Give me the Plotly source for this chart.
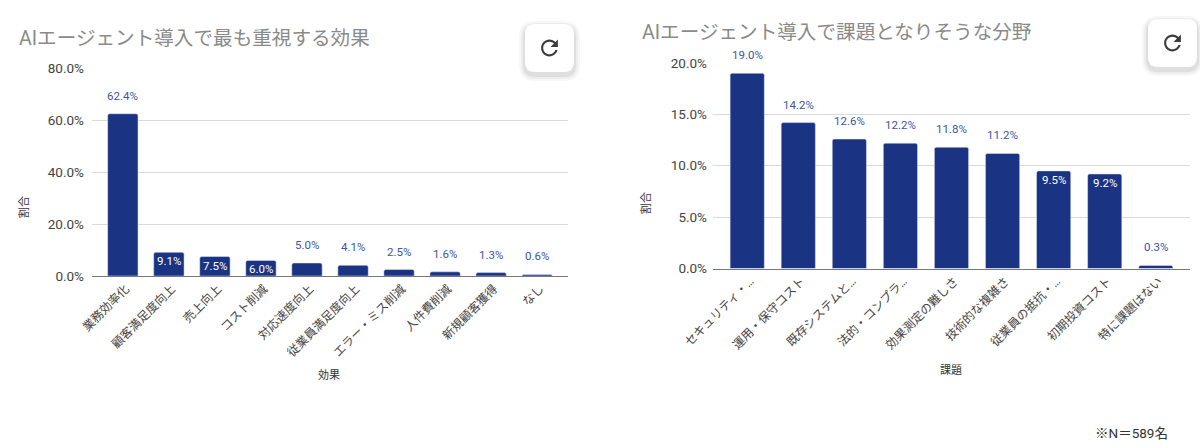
import re

import plotly.graph_objects as go

W = 1200
H = 448

effect_cats = ["業務効率化", "顧客満足度向上", "売上向上", "コスト削減", "対応速度向上",
               "従業員満足度向上", "エラー・ミス削減", "人件費削減", "新規顧客獲得", "なし"]
effect_vals = [62.4, 9.1, 7.5, 6.0, 5.0, 4.1, 2.5, 1.6, 1.3, 0.6]
effect_inside = [False, True, True, True, False, False, False, False, False, False]
effect_ticks = [0, 20, 40, 60, 80]

issue_cats = ["セキュリティ・…", "運用・保守コスト", "既存システムと…", "法的・コンプラ…", "効果測定の難しさ",
              "技術的な複雑さ", "従業員の抵抗・…", "初期投資コスト", "特に課題はない"]
issue_vals = [19.0, 14.2, 12.6, 12.2, 11.8, 11.2, 9.5, 9.2, 0.3]
issue_inside = [False, False, False, False, False, False, True, True, False]
issue_ticks = [0, 5, 10, 15, 20]

JP = "Roboto, 'Noto Sans CJK JP', sans-serif"
BAR = "#1a3383"
LABEL = "#3b55a5"
TEXT = "#444444"

# material refresh icon, 24 unit box
ICON = ("M 17.65 6.35 C 16.2 4.9 14.21 4 12 4 C 7.58 4 4.01 7.58 4.01 12 C 4.01 16.42 7.58 20 12 20 "
        "C 15.73 20 18.84 17.45 19.73 14 L 17.65 14 C 16.83 16.33 14.61 18 12 18 C 8.69 18 6 15.31 6 12 "
        "C 6 8.69 8.69 6 12 6 C 13.66 6 15.14 6.69 16.22 7.78 L 13 11 L 20 11 L 20 4 Z")


def px(x):
    return x / W


def py(y):
    return 1 - y / H


fig = go.Figure()
fig.add_trace(go.Bar(x=effect_cats, y=effect_vals, marker=dict(color=BAR, cornerradius=2),
                     width=0.66, xaxis="x", yaxis="y", showlegend=False))
fig.add_trace(go.Bar(x=issue_cats, y=issue_vals, marker=dict(color=BAR, cornerradius=2),
                     width=0.67, xaxis="x2", yaxis="y2", showlegend=False))

annots = []


def value_labels(cats, vals, inside, xref, yref):
    for c, v, ins in zip(cats, vals, inside):
        annots.append(dict(x=c, y=v, xref=xref, yref=yref, text=f"{v:.1f}%", showarrow=False,
                           yshift=-9 if ins else 18,
                           font=dict(family=JP, size=11.5, color="white" if ins else LABEL)))


value_labels(effect_cats, effect_vals, effect_inside, "x", "y")
value_labels(issue_cats, issue_vals, issue_inside, "x2", "y2")


def paper_text(x, y, text, size, color, angle=0, xanchor="center"):
    annots.append(dict(x=px(x), y=py(y), xref="paper", yref="paper", text=text, showarrow=False,
                       xanchor=xanchor, yanchor="middle", textangle=angle,
                       font=dict(family=JP, size=size, color=color)))


paper_text(17, 38.5, "AIエージェント導入で最も重視する効果", 19.6, "#8a8a8a", xanchor="left")
paper_text(640, 32.5, "AIエージェント導入で課題となりそうな分野", 19.6, "#8a8a8a", xanchor="left")
paper_text(24, 207, "割合", 11, "#333333", angle=-90)
paper_text(646, 203, "割合", 11, "#333333", angle=-90)
paper_text(329, 375, "効果", 11, "#333333")
paper_text(951, 370, "課題", 11, "#333333")
paper_text(1131, 433, "※N＝589名", 13.5, "#333333")

# reload buttons that sit over the charts
shapes = []


def rounded(x0, y0, x1, y1, r):
    a, b, c, d = px(x0), py(y0), px(x1), py(y1)
    rx, ry = r / W, r / H
    return (f"M {a+rx} {b} L {c-rx} {b} Q {c} {b} {c} {b-ry} L {c} {d+ry} Q {c} {d} {c-rx} {d} "
            f"L {a+rx} {d} Q {a} {d} {a} {d+ry} L {a} {b-ry} Q {a} {b} {a+rx} {b} Z")


def icon_path(cx, cy, scale):
    # swap the icon's x y pairs over to paper coordinates
    tokens = re.findall(r"[A-Z]|-?[\d.]+", ICON)
    out = []
    is_x = True
    for t in tokens:
        if t.isalpha():
            out.append(t)
        elif is_x:
            out.append(str(px(cx + (float(t) - 12) * scale)))
            is_x = False
        else:
            out.append(str(py(cy + (float(t) - 12) * scale)))
            is_x = True
    return " ".join(out)


for x0, y0 in [(525, 24), (1148, 19)]:
    for grow, alpha in [(6, 0.03), (4, 0.04), (2, 0.06)]:
        shapes.append(dict(type="path", xref="paper", yref="paper", layer="above",
                           path=rounded(x0 - grow, y0 - grow + 3, x0 + 49 + grow, y0 + 48 + grow + 3, 10 + grow),
                           fillcolor=f"rgba(0,0,0,{alpha})", line_width=0))
    shapes.append(dict(type="path", xref="paper", yref="paper", layer="above",
                       path=rounded(x0, y0, x0 + 49, y0 + 48, 10), fillcolor="white", line_width=0))
    shapes.append(dict(type="path", xref="paper", yref="paper", layer="above",
                       path=icon_path(x0 + 24.5, y0 + 24, 1.05), fillcolor="#3c3c3c", line_width=0))


def y_axis(ticks, rng, domain, anchor, standoff):
    return dict(domain=domain, range=rng, anchor=anchor, tickvals=ticks, automargin=False,
                ticktext=[f"{t:.1f}%" for t in ticks], ticklabelstandoff=standoff,
                tickfont=dict(family=JP, size=13.5, color=TEXT),
                gridcolor="#d9d9de", gridwidth=1, zeroline=False, showline=False, ticks="", ticklen=0)


def x_axis(domain, anchor, n):
    return dict(domain=domain, anchor=anchor, range=[-0.67, n - 0.33], tickangle=-45, automargin=False,
                ticklabelshift=3,
                tickfont=dict(family=JP, size=12, color=TEXT), showline=True, linecolor="#77777f",
                linewidth=1, ticks="", showgrid=False, type="category")


fig.update_layout(
    width=W, height=H, margin=dict(l=0, r=0, t=0, b=0), autosize=False,
    paper_bgcolor="white", plot_bgcolor="white", showlegend=False,
    xaxis=x_axis([px(92), px(568)], "y", len(effect_cats)),
    yaxis=y_axis(effect_ticks, [0, 80], [py(276), py(68)], "x", 7),
    xaxis2=x_axis([px(713), px(1190)], "y2", len(issue_cats)),
    yaxis2=y_axis(issue_ticks, [0, 20], [py(268.5), py(63)], "x2", 5),
    annotations=annots, shapes=shapes,
)

fig.write_html("out.html", config=dict(displayModeBar=False),
               post_script="document.body.style.margin='0';")
